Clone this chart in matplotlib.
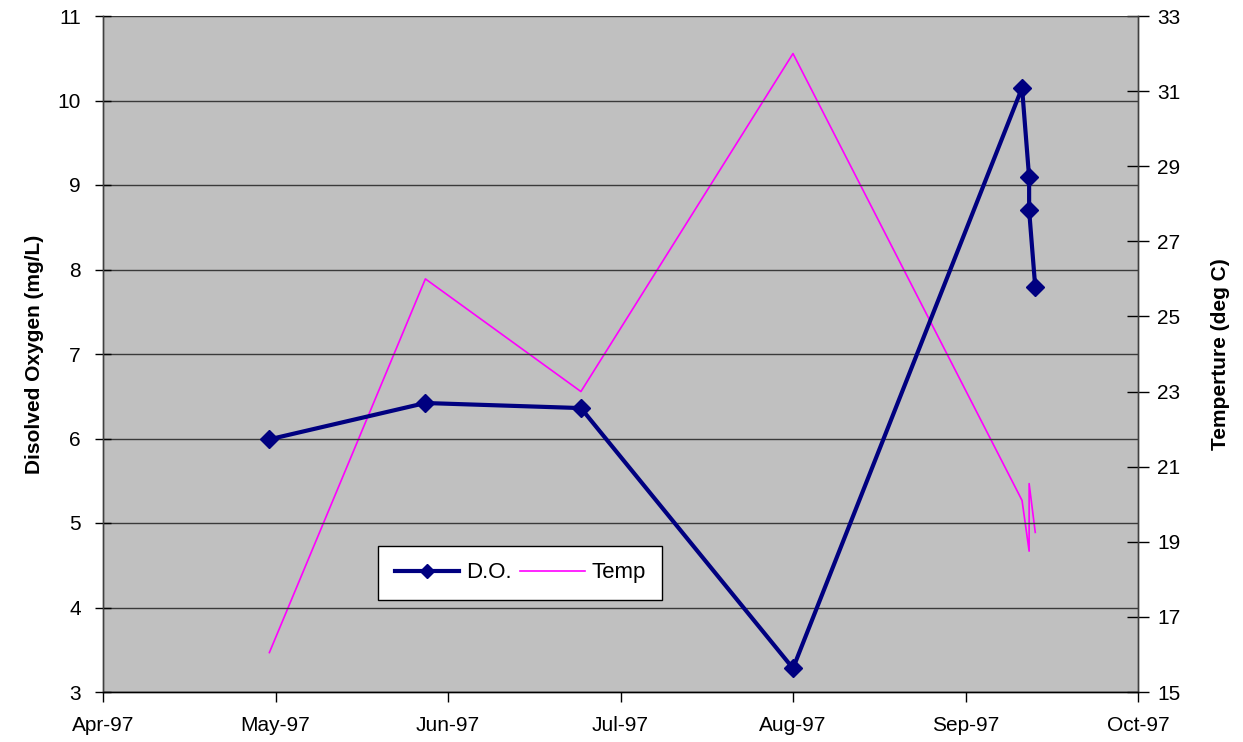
import matplotlib
matplotlib.use("Agg")
import matplotlib.pyplot as plt
import matplotlib.dates as mdates
import numpy as np
from datetime import datetime

plt.rcParams['font.family'] = ['Liberation Sans', 'DejaVu Sans']

# Data
sample_dates = ["1997-04-30 10:00", "1997-05-28 00:00", "1997-06-24 12:00", "1997-08-01 00:00",
                "1997-09-10 12:00", "1997-09-11 18:00", "1997-09-11 18:00", "1997-09-12 20:00"]
do_values = [5.99, 6.42, 6.36, 3.28, 10.15, 9.09, 8.70, 7.79]
temp_values = [16.05, 26.0, 23.0, 32.0, 20.1, 18.75, 20.55, 19.25]

x_tick_labels = ["Apr-97", "May-97", "Jun-97", "Jul-97", "Aug-97", "Sep-97", "Oct-97"]
do_ticks = [3, 4, 5, 6, 7, 8, 9, 10, 11]
temp_ticks = [15, 17, 19, 21, 23, 25, 27, 29, 31, 33]

dates = [datetime.strptime(s, "%Y-%m-%d %H:%M") for s in sample_dates]
xnum = mdates.date2num(dates)
x_start = mdates.date2num(datetime(1997, 4, 1))
x_end = mdates.date2num(datetime(1997, 10, 1))
x_ticks = np.linspace(x_start, x_end, len(x_tick_labels))

fig = plt.figure(figsize=(12.43, 7.42), dpi=100)
ax = fig.add_axes([103/1243, 50/742, 1035/1243, 676/742])

ax.set_xlim(x_start, x_end)
ax.set_ylim(3, 11)
ax.set_yticks(do_ticks)
ax.set_xticks(x_ticks)
ax.set_xticklabels(x_tick_labels)
ax.grid(axis='y', color='#3a3a3a', linewidth=1.0)
ax.set_axisbelow(True)

ax2 = ax.twinx()
ax2.set_ylim(15, 33)
ax2.set_yticks(temp_ticks)

l2, = ax2.plot(xnum, temp_values, color='#FF00FF', linewidth=1.2, label='Temp', zorder=2)
l1, = ax.plot(xnum, do_values, color='#000080', linewidth=3.0, marker='D', markersize=9,
              markerfacecolor='#000080', markeredgecolor='#000080', label='D.O.', zorder=3)
ax.set_zorder(ax2.get_zorder() + 1)
ax.set_facecolor("none")
ax2.patch.set_visible(True)
ax2.patch.set_facecolor("#C0C0C0")

for a in (ax, ax2):
    for side in ('left', 'right', 'top', 'bottom'):
        a.spines[side].set_color('#404040')
        a.spines[side].set_linewidth(1.0)
ax.spines['bottom'].set_color('black')
ax.spines['top'].set_visible(False)
ax2.spines['top'].set_visible(False)

ax.tick_params(axis='y', direction='inout', length=12, width=1, labelsize=15, pad=10)
ax.tick_params(axis='x', direction='out', length=7, width=1, labelsize=15, pad=10)
ax2.tick_params(axis='y', direction='inout', length=16, width=1, labelsize=15, pad=6)

ax.set_ylabel("Disolved Oxygen (mg/L)", fontsize=15, fontweight='bold', labelpad=10)
ax2.set_ylabel("Temperture (deg C)", fontsize=15, fontweight='bold', labelpad=22)

leg = ax.legend(handles=[l1, l2], labels=['D.O.', 'Temp'], ncol=2,
                loc='lower left', bbox_to_anchor=(0.266, 0.136, 0.2744, 0.078), mode='expand',
                borderaxespad=0.0,
                frameon=True, fancybox=False, shadow=False, fontsize=16,
                handlelength=2.9, borderpad=0.75, columnspacing=2.2, handletextpad=0.3,
                markerscale=0.75)
leg.get_frame().set_edgecolor('black')
leg.get_frame().set_facecolor('white')
leg.get_frame().set_linewidth(1.0)
leg.get_frame().set_alpha(1.0)

fig.savefig("out.png", dpi=100)
